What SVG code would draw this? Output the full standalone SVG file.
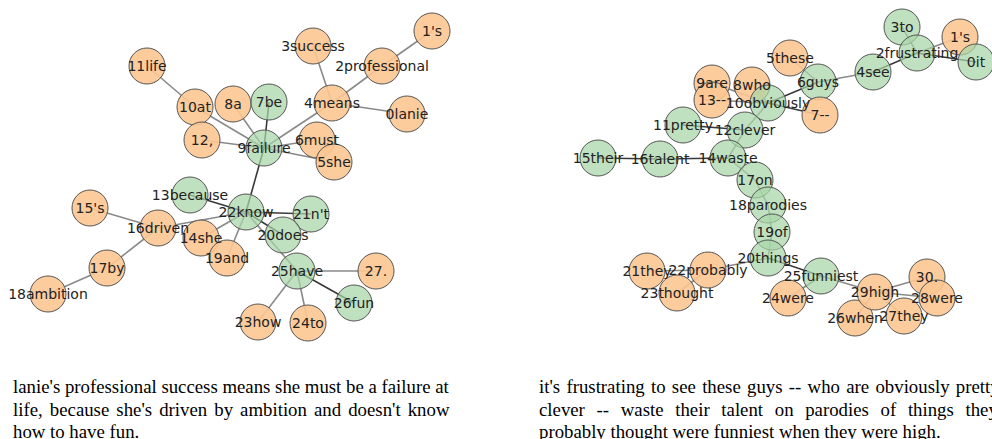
<svg xmlns="http://www.w3.org/2000/svg" width="992" height="439" viewBox="0 0 992 439">
<style>
.e{stroke:#8a8a8a;stroke-width:1.6;fill:none}
.d{stroke:#3a3a3a;stroke-width:1.6;fill:none}
.o circle{fill:#fdc692;fill-opacity:0.9;stroke:#555;stroke-width:1}
.g circle{fill:#a8d5a8;fill-opacity:0.72;stroke:#555;stroke-width:1}
#labels text{font-family:"DejaVu Sans",sans-serif;font-size:14px;fill:#222;text-anchor:middle}
.cap{font-family:"Liberation Serif",serif;font-size:18.8px;fill:#000}
</style>
<rect width="992" height="439" fill="#fff"/>
<g id="connectors">
<line class="e" x1="147" y1="66" x2="195" y2="107"/>
<line class="e" x1="195" y1="107" x2="264" y2="148"/>
<line class="e" x1="233" y1="104" x2="264" y2="148"/>
<line class="e" x1="202" y1="140" x2="264" y2="148"/>
<line class="d" x1="269" y1="102" x2="264" y2="148"/>
<line class="e" x1="332" y1="103" x2="264" y2="148"/>
<line class="e" x1="317" y1="140" x2="264" y2="148"/>
<line class="e" x1="334" y1="162" x2="264" y2="148"/>
<line class="e" x1="313" y1="46" x2="332" y2="103"/>
<line class="e" x1="382" y1="66" x2="332" y2="103"/>
<line class="e" x1="432" y1="31" x2="382" y2="66"/>
<line class="e" x1="407" y1="114" x2="332" y2="103"/>
<line class="d" x1="264" y1="148" x2="246" y2="212"/>
<line class="d" x1="190" y1="195" x2="246" y2="212"/>
<line class="e" x1="158" y1="228" x2="246" y2="212"/>
<line class="e" x1="201" y1="238" x2="246" y2="212"/>
<line class="e" x1="227" y1="258" x2="246" y2="212"/>
<line class="d" x1="246" y1="212" x2="311" y2="214"/>
<line class="d" x1="246" y1="212" x2="283" y2="235"/>
<line class="e" x1="246" y1="212" x2="297" y2="271"/>
<line class="e" x1="297" y1="271" x2="376" y2="271"/>
<line class="d" x1="297" y1="271" x2="354" y2="303"/>
<line class="e" x1="297" y1="271" x2="258" y2="322"/>
<line class="e" x1="297" y1="271" x2="308" y2="323"/>
<line class="e" x1="90" y1="208" x2="158" y2="228"/>
<line class="e" x1="158" y1="228" x2="107" y2="268"/>
<line class="e" x1="107" y1="268" x2="48" y2="294"/>

<line class="e" x1="902" y1="27" x2="917" y2="53"/>
<line class="e" x1="960" y1="37" x2="917" y2="53"/>
<line class="d" x1="976" y1="62" x2="917" y2="53"/>
<line class="d" x1="917" y1="53" x2="873" y2="72"/>
<line class="e" x1="873" y1="72" x2="818" y2="82"/>
<line class="e" x1="790" y1="58" x2="818" y2="82"/>
<line class="d" x1="818" y1="82" x2="768" y2="103"/>
<line class="d" x1="768" y1="103" x2="820" y2="115"/>
<line class="e" x1="752" y1="85" x2="768" y2="103"/>
<line class="e" x1="712" y1="83" x2="768" y2="103"/>
<line class="e" x1="712" y1="100" x2="768" y2="103"/>
<line class="e" x1="768" y1="103" x2="745" y2="130"/>
<line class="d" x1="683" y1="125" x2="745" y2="130"/>
<line class="e" x1="745" y1="130" x2="728" y2="158"/>
<line class="d" x1="728" y1="158" x2="660" y2="159"/>
<line class="d" x1="660" y1="159" x2="598" y2="158"/>
<line class="e" x1="728" y1="158" x2="755" y2="180"/>
<line class="e" x1="755" y1="180" x2="768" y2="205"/>
<line class="e" x1="768" y1="205" x2="772" y2="232"/>
<line class="e" x1="772" y1="232" x2="768" y2="258"/>
<line class="e" x1="768" y1="258" x2="708" y2="270"/>
<line class="e" x1="708" y1="270" x2="647" y2="271"/>
<line class="e" x1="708" y1="270" x2="677" y2="293"/>
<line class="d" x1="768" y1="258" x2="821" y2="276"/>
<line class="e" x1="821" y1="276" x2="788" y2="298"/>
<line class="e" x1="821" y1="276" x2="875" y2="292"/>
<line class="e" x1="875" y1="292" x2="927" y2="277"/>
<line class="e" x1="875" y1="292" x2="937" y2="298"/>
<line class="e" x1="875" y1="292" x2="904" y2="316"/>
<line class="e" x1="875" y1="292" x2="855" y2="318"/>
</g>

<g id="nodes">
<g id="L11life" class="o"><circle cx="147" cy="66" r="18"/></g>
<g id="L10at" class="o"><circle cx="195" cy="107" r="18"/></g>
<g id="L8a" class="o"><circle cx="233" cy="104" r="18"/></g>
<g id="L12comma" class="o"><circle cx="202" cy="140" r="18"/></g>
<g id="L7be" class="g"><circle cx="269" cy="102" r="18"/></g>
<g id="L3success" class="o"><circle cx="313" cy="46" r="18"/></g>
<g id="L1s" class="o"><circle cx="432" cy="31" r="18"/></g>
<g id="L2professional" class="o"><circle cx="382" cy="66" r="18"/></g>
<g id="L0lanie" class="o"><circle cx="407" cy="114" r="18"/></g>
<g id="L4means" class="o"><circle cx="332" cy="103" r="18"/></g>
<g id="L9failure" class="g"><circle cx="264" cy="148" r="18"/></g>
<g id="L6must" class="o"><circle cx="317" cy="140" r="18"/></g>
<g id="L5she" class="o"><circle cx="334" cy="162" r="18"/></g>
<g id="L13because" class="g"><circle cx="190" cy="195" r="18"/></g>
<g id="L15s" class="o"><circle cx="90" cy="208" r="18"/></g>
<g id="L17by" class="o"><circle cx="107" cy="268" r="18"/></g>
<g id="L18ambition" class="o"><circle cx="48" cy="294" r="18"/></g>
<g id="L22know" class="g"><circle cx="246" cy="212" r="18"/></g>
<g id="L16driven" class="o"><circle cx="158" cy="228" r="18"/></g>
<g id="L14she" class="o"><circle cx="201" cy="238" r="18"/></g>
<g id="L19and" class="o"><circle cx="227" cy="258" r="18"/></g>
<g id="L21nt" class="g"><circle cx="311" cy="214" r="18"/></g>
<g id="L20does" class="g"><circle cx="283" cy="235" r="18"/></g>
<g id="L27dot" class="o"><circle cx="376" cy="271" r="18"/></g>
<g id="L25have" class="g"><circle cx="297" cy="271" r="18"/></g>
<g id="L26fun" class="g"><circle cx="354" cy="303" r="18"/></g>
<g id="L23how" class="o"><circle cx="258" cy="322" r="18"/></g>
<g id="L24to" class="o"><circle cx="308" cy="323" r="18"/></g>

<g id="R3to" class="g"><circle cx="902" cy="27" r="18"/></g>
<g id="R1s" class="o"><circle cx="960" cy="37" r="18"/></g>
<g id="R0it" class="g"><circle cx="976" cy="62" r="18"/></g>
<g id="R2frustrating" class="g"><circle cx="917" cy="53" r="18"/></g>
<g id="R4see" class="g"><circle cx="873" cy="72" r="18"/></g>
<g id="R5these" class="o"><circle cx="790" cy="58" r="18"/></g>
<g id="R6guys" class="g"><circle cx="818" cy="82" r="18"/></g>
<g id="R7dash" class="o"><circle cx="820" cy="115" r="18"/></g>
<g id="R9are" class="o"><circle cx="712" cy="83" r="18"/></g>
<g id="R13dash" class="o"><circle cx="712" cy="100" r="18"/></g>
<g id="R8who" class="o"><circle cx="752" cy="85" r="18"/></g>
<g id="R10obviously" class="g"><circle cx="768" cy="103" r="18"/></g>
<g id="R11pretty" class="g"><circle cx="683" cy="125" r="18"/></g>
<g id="R12clever" class="g"><circle cx="745" cy="130" r="18"/></g>
<g id="R15their" class="g"><circle cx="598" cy="158" r="18"/></g>
<g id="R16talent" class="g"><circle cx="660" cy="159" r="18"/></g>
<g id="R14waste" class="g"><circle cx="728" cy="158" r="18"/></g>
<g id="R17on" class="g"><circle cx="755" cy="180" r="18"/></g>
<g id="R18parodies" class="g"><circle cx="768" cy="205" r="18"/></g>
<g id="R19of" class="g"><circle cx="772" cy="232" r="18"/></g>
<g id="R20things" class="g"><circle cx="768" cy="258" r="18"/></g>
<g id="R21they" class="o"><circle cx="647" cy="271" r="18"/></g>
<g id="R23thought" class="o"><circle cx="677" cy="293" r="18"/></g>
<g id="R22probably" class="o"><circle cx="708" cy="270" r="18"/></g>
<g id="R24were" class="o"><circle cx="788" cy="298" r="18"/></g>
<g id="R25funniest" class="g"><circle cx="821" cy="276" r="18"/></g>
<g id="R30dot" class="o"><circle cx="927" cy="277" r="18"/></g>
<g id="R28were" class="o"><circle cx="937" cy="298" r="18"/></g>
<g id="R26when" class="o"><circle cx="855" cy="318" r="18"/></g>
<g id="R27they" class="o"><circle cx="904" cy="316" r="18"/></g>
<g id="R29high" class="o"><circle cx="875" cy="292" r="18"/></g>
</g>

<g id="labels">
<text x="147" y="71">11life</text>
<text x="195" y="112">10at</text>
<text x="233" y="109">8a</text>
<text x="202" y="145">12,</text>
<text x="269" y="107">7be</text>
<text x="313" y="51">3success</text>
<text x="432" y="36">1's</text>
<text x="382" y="71">2professional</text>
<text x="407" y="119">0lanie</text>
<text x="332" y="108">4means</text>
<text x="264" y="153">9failure</text>
<text x="317" y="145">6must</text>
<text x="334" y="167">5she</text>
<text x="190" y="200">13because</text>
<text x="90" y="213">15's</text>
<text x="107" y="273">17by</text>
<text x="48" y="299">18ambition</text>
<text x="246" y="217">22know</text>
<text x="158" y="233">16driven</text>
<text x="201" y="243">14she</text>
<text x="227" y="263">19and</text>
<text x="311" y="219">21n't</text>
<text x="283" y="240">20does</text>
<text x="376" y="276">27.</text>
<text x="297" y="276">25have</text>
<text x="354" y="308">26fun</text>
<text x="258" y="327">23how</text>
<text x="308" y="328">24to</text>
<text x="902" y="32">3to</text>
<text x="960" y="42">1's</text>
<text x="976" y="67">0it</text>
<text x="917" y="58">2frustrating</text>
<text x="873" y="77">4see</text>
<text x="790" y="63">5these</text>
<text x="818" y="87">6guys</text>
<text x="820" y="120">7--</text>
<text x="712" y="88">9are</text>
<text x="712" y="105">13--</text>
<text x="752" y="90">8who</text>
<text x="768" y="108">10obviously</text>
<text x="683" y="130">11pretty</text>
<text x="745" y="135">12clever</text>
<text x="598" y="163">15their</text>
<text x="660" y="164">16talent</text>
<text x="728" y="163">14waste</text>
<text x="755" y="185">17on</text>
<text x="768" y="210">18parodies</text>
<text x="772" y="237">19of</text>
<text x="768" y="263">20things</text>
<text x="647" y="276">21they</text>
<text x="677" y="298">23thought</text>
<text x="708" y="275">22probably</text>
<text x="788" y="303">24were</text>
<text x="821" y="281">25funniest</text>
<text x="927" y="282">30.</text>
<text x="937" y="303">28were</text>
<text x="855" y="323">26when</text>
<text x="904" y="321">27they</text>
<text x="875" y="297">29high</text>
</g>

<g id="captions">
<text class="cap" x="13" y="393">lanie's professional success means she must be a failure at</text>
<text class="cap" x="13" y="416" word-spacing="2.4">life, because she's driven by ambition and doesn't know</text>
<text class="cap" x="13" y="438">how to have fun.</text>
<text class="cap" x="539" y="393" word-spacing="1.6">it's frustrating to see these guys -- who are obviously pretty</text>
<text class="cap" x="539" y="416" word-spacing="7">clever -- waste their talent on parodies of things they</text>
<text class="cap" x="539" y="438">probably thought were funniest when they were high.</text>
</g>
</svg>
